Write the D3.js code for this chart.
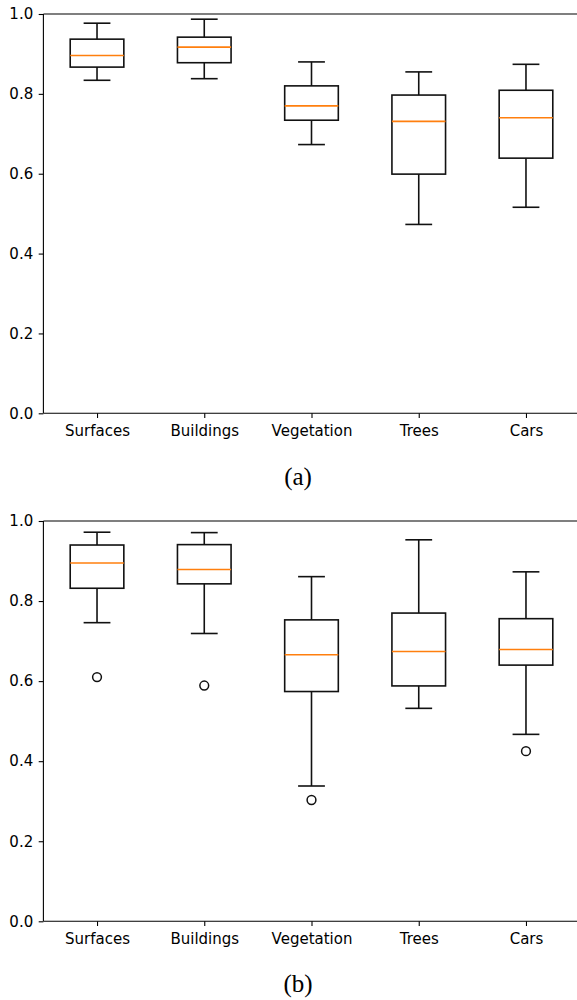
<!DOCTYPE html>
<html>
<head>
<meta charset="utf-8">
<script src="https://cdn.jsdelivr.net/npm/d3@7"></script>
<style>
  body { margin: 0; background: #fff; }
  svg { display: block; }
  .tick text { font-family: "DejaVu Sans", sans-serif; font-size: 15px; fill: #000; }
</style>
</head>
<body>
<svg id="chart" width="577" height="1000"></svg>
<script>
const categories = ["Surfaces", "Buildings", "Vegetation", "Trees", "Cars"];
const yTicks = [0.0, 0.2, 0.4, 0.6, 0.8, 1.0];

// Panel (a)
const aWhiskerLow  = [0.834, 0.838, 0.673, 0.473, 0.516];
const aQ1          = [0.867, 0.878, 0.734, 0.599, 0.639];
const aMedian      = [0.896, 0.917, 0.770, 0.731, 0.740];
const aQ3          = [0.937, 0.942, 0.820, 0.797, 0.809];
const aWhiskerHigh = [0.977, 0.987, 0.880, 0.855, 0.874];
const aOutliers    = [[], [], [], [], []];

// Panel (b)
const bWhiskerLow  = [0.746, 0.719, 0.338, 0.532, 0.467];
const bQ1          = [0.832, 0.843, 0.574, 0.588, 0.640];
const bMedian      = [0.895, 0.879, 0.666, 0.674, 0.679];
const bQ3          = [0.940, 0.941, 0.753, 0.770, 0.756];
const bWhiskerHigh = [0.972, 0.971, 0.861, 0.953, 0.873];
const bOutliers    = [[0.610], [0.589], [0.303], [], [0.425]];

const captions = ["(a)", "(b)"];

const svg = d3.select("#chart");
const left = 43.4, right = 579.6;

const x = d3.scalePoint().domain(categories).range([left, right]).padding(0.5);
const step = x.step();

function panel(top, bottom, lo, q1, med, q3, hi, outs, caption, capY) {
  const y = d3.scaleLinear().domain([0, 1]).range([bottom, top]);
  const g = svg.append("g");

  const yAxis = d3.axisLeft(y).tickValues(yTicks).tickFormat(d3.format(".1f"))
    .tickSize(4.7).tickPadding(5.5);
  const xAxis = d3.axisBottom(x).tickSize(4.7).tickPadding(7.5);

  g.append("g").attr("transform", `translate(${left},0)`).call(yAxis)
    .call(s => s.select(".domain").remove())
    .call(s => s.selectAll(".tick line").attr("stroke", "#000").attr("stroke-width", 1.1));
  g.append("g").attr("transform", `translate(0,${bottom})`).call(xAxis)
    .call(s => s.select(".domain").remove())
    .call(s => s.selectAll(".tick line").attr("stroke", "#000").attr("stroke-width", 1.1))
    .call(s => s.selectAll(".tick text").attr("dy", "0.71em"));

  // spines
  const spine = (x1, y1, x2, y2) => g.append("line").attr("x1", x1).attr("y1", y1)
    .attr("x2", x2).attr("y2", y2).attr("stroke", "#000").attr("stroke-width", 1.1);
  spine(left, top, right, top);
  spine(left, bottom, right, bottom);
  spine(left, top, left, bottom);
  spine(right, top, right, bottom);

  const boxW = step * 0.5, capW = step * 0.25;
  const data = categories.map((c, i) => ({c, lo: lo[i], q1: q1[i], med: med[i], q3: q3[i], hi: hi[i], outs: outs[i]}));
  const bx = g.selectAll(".box").data(data).join("g").attr("class", "box");
  const stroke = "#111", sw = 1.6;

  bx.append("line").attr("x1", d => x(d.c)).attr("x2", d => x(d.c))
    .attr("y1", d => y(d.q1)).attr("y2", d => y(d.lo)).attr("stroke", stroke).attr("stroke-width", sw);
  bx.append("line").attr("x1", d => x(d.c)).attr("x2", d => x(d.c))
    .attr("y1", d => y(d.q3)).attr("y2", d => y(d.hi)).attr("stroke", stroke).attr("stroke-width", sw);
  bx.append("line").attr("x1", d => x(d.c) - capW / 2).attr("x2", d => x(d.c) + capW / 2)
    .attr("y1", d => y(d.lo)).attr("y2", d => y(d.lo)).attr("stroke", stroke).attr("stroke-width", sw);
  bx.append("line").attr("x1", d => x(d.c) - capW / 2).attr("x2", d => x(d.c) + capW / 2)
    .attr("y1", d => y(d.hi)).attr("y2", d => y(d.hi)).attr("stroke", stroke).attr("stroke-width", sw);
  bx.append("rect").attr("x", d => x(d.c) - boxW / 2).attr("width", boxW)
    .attr("y", d => y(d.q3)).attr("height", d => y(d.q1) - y(d.q3))
    .attr("fill", "none").attr("stroke", stroke).attr("stroke-width", sw);
  bx.append("line").attr("x1", d => x(d.c) - boxW / 2).attr("x2", d => x(d.c) + boxW / 2)
    .attr("y1", d => y(d.med)).attr("y2", d => y(d.med)).attr("stroke", "#ff7f0e").attr("stroke-width", sw);
  bx.selectAll("circle").data(d => d.outs.map(v => ({c: d.c, v}))).join("circle")
    .attr("cx", d => x(d.c)).attr("cy", d => y(d.v)).attr("r", 4.4)
    .attr("fill", "none").attr("stroke", stroke).attr("stroke-width", 1.5);

  svg.append("text").attr("x", 298).attr("y", capY).attr("text-anchor", "middle")
    .attr("font-family", "Liberation Serif, serif").attr("font-size", 25).attr("fill", "#000")
    .text(caption);
}

panel(14, 413.3, aWhiskerLow, aQ1, aMedian, aQ3, aWhiskerHigh, aOutliers, captions[0], 485);
panel(521, 921.3, bWhiskerLow, bQ1, bMedian, bQ3, bWhiskerHigh, bOutliers, captions[1], 992);
</script>
</body>
</html>
